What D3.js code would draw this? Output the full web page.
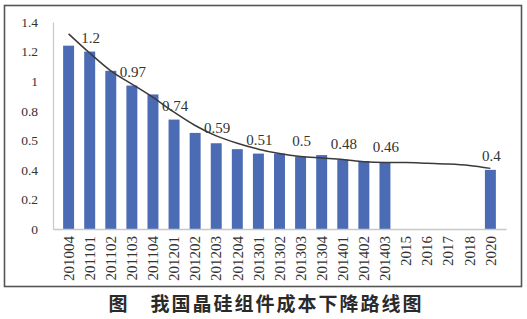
<!DOCTYPE html>
<html>
<head>
<meta charset="utf-8">
<script src="https://cdn.jsdelivr.net/npm/d3@7"></script>
<style>
  body { margin: 0; background: #fff; }
  svg { display: block; }
  .serif text, text.serif { font-family: "Liberation Serif", "Times New Roman", "DejaVu Serif", serif; }
</style>
</head>
<body>
<div id="chartContainer"></div>
<script>
// categories (quarters, then years)
const categories = ["201004", "201101", "201102", "201103", "201104", "201201", "201202",
    "201203", "201204", "201301", "201302", "201303", "201304", "201401", "201402",
    "201403", "2015", "2016", "2017", "2018", "2020"];

// module cost (bars), empty years have no bar
const costValues = [1.24, 1.20, 1.07, 0.97, 0.91, 0.74, 0.65, 0.58, 0.54, 0.51, 0.51,
    0.49, 0.50, 0.47, 0.46, 0.45, null, null, null, null, 0.40];

// trend line
const trendValues = [1.32, 1.19, 1.07, 0.98, 0.89, 0.79, 0.70, 0.63, 0.58, 0.54, 0.51,
    0.49, 0.48, 0.47, 0.455, 0.45, 0.45, 0.445, 0.44, 0.43, 0.41];

// data labels shown above the curve
const labelCats = ["201101", "201103", "201201", "201203", "201301", "201303", "201401", "201403", "2020"];
const labelValues = [1.2, 0.97, 0.74, 0.59, 0.51, 0.5, 0.48, 0.46, 0.4];

// y axis ticks (as printed)
const yTickValues = [0, 0.2, 0.4, 0.6, 0.8, 1, 1.2, 1.4];
const yTickLabels = ["0", "0.2", "0.4", "0.5", "0.8", "1", "1.2", "1.4"];

const caption = "图\u3000我国晶硅组件成本下降路线图";

function createChart() {
    const width = 527;
    const height = 319;
    const margin = { top: 22, right: 21, bottom: 90, left: 53 };

    const svg = d3.create("svg")
        .attr("width", width)
        .attr("height", height)
        .attr("viewBox", [0, 0, width, height]);

    // outer frame
    svg.append("rect")
        .attr("x", 4.5).attr("y", 5.5)
        .attr("width", 517).attr("height", 281)
        .attr("fill", "#fff")
        .attr("stroke", "#555")
        .attr("stroke-width", 1.6);

    const x = d3.scaleBand()
        .domain(categories)
        .range([margin.left, width - margin.right])
        .padding(0.48);

    const y = d3.scaleLinear()
        .domain([0, 1.4])
        .range([229, margin.top]);

    // bars
    svg.append("g")
        .attr("fill", "#4b6cb5")
        .selectAll("rect")
        .data(categories.map((c, i) => ({ c, v: costValues[i] })).filter(d => d.v != null))
        .join("rect")
        .attr("x", d => x(d.c))
        .attr("y", d => y(d.v))
        .attr("width", x.bandwidth())
        .attr("height", d => y(0) - y(d.v));

    // y axis
    const yAxis = svg.append("g")
        .attr("class", "serif")
        .attr("transform", `translate(${margin.left},0)`)
        .call(d3.axisLeft(y)
            .tickValues(yTickValues)
            .tickFormat((d, i) => yTickLabels[i])
            .tickSize(0)
            .tickPadding(15));
    yAxis.attr("font-family", null);
    yAxis.select(".domain").attr("stroke", "#c8c8c8").attr("stroke-width", 1.2);
    yAxis.selectAll("text")
        .style("font-size", "13.5px")
        .attr("fill", "#333");

    // x axis
    const xAxis = svg.append("g")
        .attr("class", "serif")
        .attr("transform", `translate(0,${y(0)})`)
        .call(d3.axisBottom(x).tickSize(0).tickPadding(0));
    xAxis.attr("font-family", null);
    xAxis.select(".domain").attr("stroke", "#c8c8c8").attr("stroke-width", 1.5);
    xAxis.selectAll("text")
        .style("font-size", "15px")
        .attr("fill", "#333")
        .attr("text-anchor", "end")
        .attr("transform", "translate(0,7) rotate(-90)")
        .attr("x", 0)
        .attr("y", 0)
        .attr("dy", "0.35em");

    // trend curve
    const line = d3.line()
        .x((d, i) => x(categories[i]) + x.bandwidth() / 2)
        .y(d => y(d))
        .curve(d3.curveMonotoneX);

    svg.append("path")
        .datum(trendValues)
        .attr("fill", "none")
        .attr("stroke", "#3a3a3a")
        .attr("stroke-width", 1.5)
        .attr("d", line);

    // data labels
    svg.append("g")
        .attr("class", "serif")
        .style("font-size", "15px")
        .attr("fill", "#333")
        .attr("text-anchor", "middle")
        .selectAll("text")
        .data(labelCats.map((c, i) => ({ c, v: labelValues[i] })))
        .join("text")
        .attr("x", d => x(d.c) + x.bandwidth() / 2 + 1)
        .attr("y", d => y(d.v) - 14)
        .attr("dy", "0.35em")
        .text(d => d.v);

    // caption
    svg.append("text")
        .attr("x", 266)
        .attr("y", 304)
        .attr("dy", "0.36em")
        .attr("text-anchor", "middle")
        .style("font-family", "'Noto Sans CJK SC', sans-serif")
        .style("font-weight", "bold")
        .style("font-size", "19px")
        .attr("letter-spacing", 2)
        .attr("fill", "#2a2a2a")
        .text(caption);

    return svg.node();
}

document.getElementById("chartContainer").appendChild(createChart());
</script>
</body>
</html>
